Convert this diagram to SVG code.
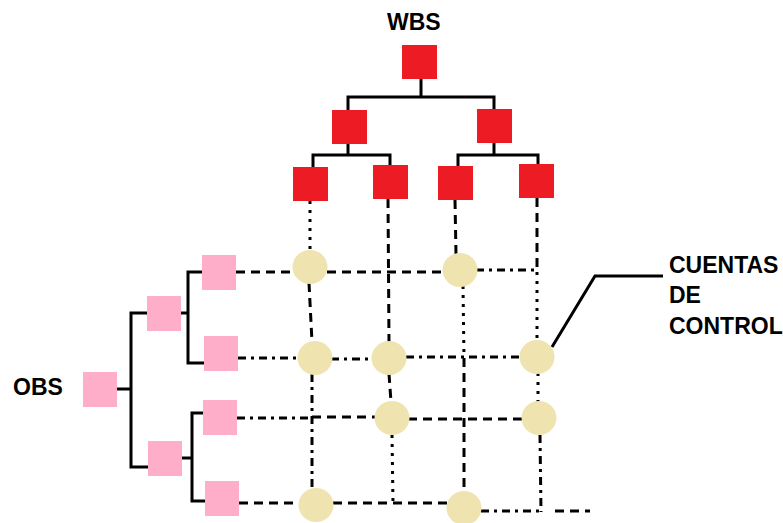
<svg xmlns="http://www.w3.org/2000/svg" width="783" height="523" viewBox="0 0 783 523">
<style>
.lbl{font-family:"Liberation Sans",Arial,sans-serif;font-weight:bold;font-size:23px;fill:#000}
.wbs{fill:#ED1C24}
.obs{fill:#FFAEC9}
.ca{fill:#EFE4B0}
.tree{stroke:#000;stroke-width:3;fill:none}
.da{stroke:#000;stroke-width:3;fill:none;stroke-dasharray:9 6}
.dd{stroke:#000;stroke-width:3;fill:none;stroke-dasharray:8 5 3 5}
.dt{stroke:#000;stroke-width:3;fill:none;stroke-dasharray:3 6}
</style>
<rect width="783" height="523" fill="#fff"/>
<g id="connectors">
<!-- WBS tree -->
<polyline class="tree" points="421,79 421,97"/>
<polyline class="tree" points="348,110 348,97 494,97 494,109"/>
<polyline class="tree" points="348,144 348,155"/>
<polyline class="tree" points="313,167 313,155 390,155 390,165"/>
<polyline class="tree" points="494,143 494,155"/>
<polyline class="tree" points="458,166 458,155 538,155 538,164"/>
<!-- OBS tree -->
<polyline class="tree" points="117,389 131,389"/>
<polyline class="tree" points="147,313 131,313 131,467 148,467"/>
<polyline class="tree" points="181,313 188,313"/>
<polyline class="tree" points="202,272 188,272 188,363 204,363"/>
<polyline class="tree" points="182,458 192,458"/>
<polyline class="tree" points="203,413 192,413 192,501 205,501"/>
<!-- grid verticals -->
<line class="dt" x1="310" y1="201" x2="310" y2="252"/>
<line class="da" x1="309" y1="283" x2="312" y2="342"/>
<line class="dd" x1="312" y1="374" x2="312" y2="490"/>
<line class="da" x1="388" y1="199" x2="389" y2="342"/>
<line class="da" x1="389" y1="374" x2="391" y2="402"/>
<line class="dt" x1="392" y1="435" x2="393" y2="503"/>
<line class="da" x1="455" y1="200" x2="456" y2="254"/>
<line class="dt" x1="463" y1="286" x2="464" y2="358"/>
<line class="da" x1="464" y1="358" x2="464" y2="493"/>
<line class="da" x1="537" y1="198" x2="537" y2="272"/>
<line class="dt" x1="537" y1="272" x2="537" y2="340"/>
<line class="dt" x1="538" y1="373" x2="538" y2="402"/>
<line class="dd" x1="540" y1="435" x2="541" y2="512"/>
<!-- grid horizontals -->
<line class="da" x1="236" y1="272" x2="293" y2="272"/>
<line class="da" x1="327" y1="272" x2="444" y2="272"/>
<line class="dd" x1="476" y1="270" x2="537" y2="270"/>
<line class="dd" x1="238" y1="358" x2="298" y2="358"/>
<line class="dd" x1="331" y1="359" x2="372" y2="359"/>
<line class="dd" x1="406" y1="357" x2="520" y2="357"/>
<line class="dd" x1="237" y1="418" x2="312" y2="418"/>
<line class="da" x1="312" y1="417" x2="375" y2="417"/>
<line class="da" x1="408" y1="419" x2="523" y2="419"/>
<line class="da" x1="239" y1="503" x2="299" y2="503"/>
<line class="da" x1="333" y1="503" x2="448" y2="503"/>
<line class="dd" x1="481" y1="511" x2="541" y2="511"/>
<line class="da" x1="555" y1="511" x2="590" y2="511"/>
<!-- leader -->
<polyline class="tree" points="552,347 595,276 663,276"/>
</g>
<g id="wbs-label"><text class="lbl" x="387" y="30">WBS</text></g>
<g id="obs-label"><text class="lbl" x="13" y="395">OBS</text></g>
<g id="cc-label">
<text class="lbl" x="669" y="273">CUENTAS</text>
<text class="lbl" x="669" y="303">DE</text>
<text class="lbl" x="669" y="334">CONTROL</text>
</g>
<g id="wbs-root"><rect class="wbs" x="402" y="45" width="35" height="34"/></g>
<g id="wbs-1"><rect class="wbs" x="332" y="110" width="35" height="34"/></g>
<g id="wbs-2"><rect class="wbs" x="477" y="109" width="35" height="34"/></g>
<g id="wbs-1-1"><rect class="wbs" x="293" y="167" width="35" height="34"/></g>
<g id="wbs-1-2"><rect class="wbs" x="373" y="165" width="35" height="34"/></g>
<g id="wbs-2-1"><rect class="wbs" x="438" y="166" width="35" height="34"/></g>
<g id="wbs-2-2"><rect class="wbs" x="519" y="164" width="35" height="34"/></g>
<g id="obs-root"><rect class="obs" x="83" y="372" width="34" height="35"/></g>
<g id="obs-1"><rect class="obs" x="147" y="296" width="34" height="35"/></g>
<g id="obs-2"><rect class="obs" x="148" y="441" width="34" height="35"/></g>
<g id="obs-1-1"><rect class="obs" x="202" y="255" width="34" height="35"/></g>
<g id="obs-1-2"><rect class="obs" x="204" y="336" width="34" height="35"/></g>
<g id="obs-2-1"><rect class="obs" x="203" y="400" width="34" height="35"/></g>
<g id="obs-2-2"><rect class="obs" x="205" y="481" width="34" height="35"/></g>
<g id="ca-1"><ellipse class="ca" cx="310" cy="267" rx="17.5" ry="17"/></g>
<g id="ca-2"><ellipse class="ca" cx="460" cy="270" rx="17.5" ry="17"/></g>
<g id="ca-3"><ellipse class="ca" cx="315" cy="358" rx="17.5" ry="17"/></g>
<g id="ca-4"><ellipse class="ca" cx="389" cy="358" rx="17.5" ry="17"/></g>
<g id="ca-5"><ellipse class="ca" cx="537" cy="357" rx="17.5" ry="17"/></g>
<g id="ca-6"><ellipse class="ca" cx="392" cy="418" rx="17.5" ry="17"/></g>
<g id="ca-7"><ellipse class="ca" cx="539" cy="418" rx="17.5" ry="17"/></g>
<g id="ca-8"><ellipse class="ca" cx="316" cy="505" rx="17.5" ry="17"/></g>
<g id="ca-9"><ellipse class="ca" cx="464" cy="508" rx="17.5" ry="17"/></g>
</svg>
